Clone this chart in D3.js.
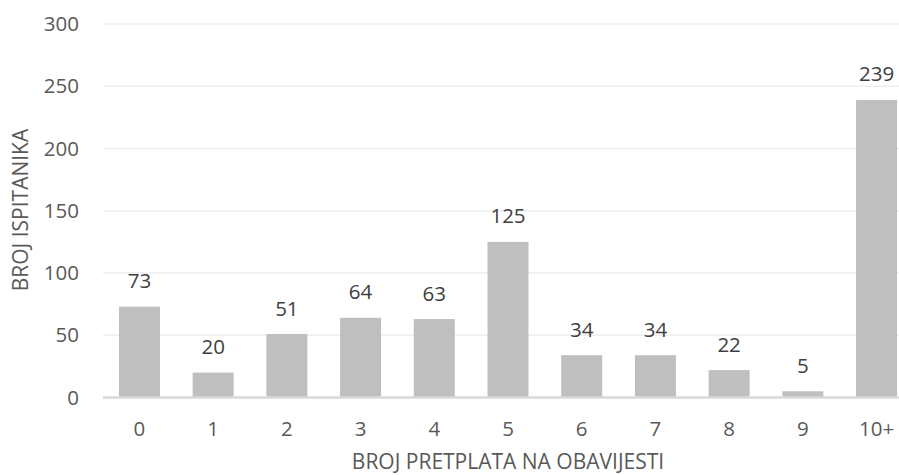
<!DOCTYPE html>
<html><head><meta charset="utf-8">
<script src="https://cdn.jsdelivr.net/npm/d3@7"></script>
<style>body{margin:0;background:#fff;} svg{display:block;}</style>
</head><body>
<svg id="chart" width="899" height="475"></svg>
<script>
const categories = ["0","1","2","3","4","5","6","7","8","9","10+"];
const values = [73,20,51,64,63,125,34,34,22,5,239];
const yTicks = [0,50,100,150,200,250,300];
const xTitle = "BROJ PRETPLATA NA OBAVIJESTI";
const yTitle = "BROJ ISPITANIKA";

const svg = d3.select("#chart");
const font = "'Open Sans', sans-serif";
const x = d3.scaleBand().domain(categories).range([102.6, 913.4]).paddingInner(0.444).paddingOuter(0.222);
const y = d3.scaleLinear().domain([0,300]).range([397.5, 24]);

// gridlines
svg.append("g").selectAll("line").data(yTicks.filter(d=>d>0)).join("line")
  .attr("x1",103).attr("x2",899).attr("y1",d=>y(d)).attr("y2",d=>y(d))
  .attr("stroke","#eeeeee").attr("stroke-width",1.5);

// bars
svg.append("g").selectAll("rect").data(values).join("rect")
  .attr("x",(d,i)=>x(categories[i])).attr("width",x.bandwidth())
  .attr("y",d=>y(d)).attr("height",d=>y(0)-y(d)).attr("fill","#bfbfbf");

// baseline
svg.append("line").attr("x1",103).attr("x2",899).attr("y1",y(0)).attr("y2",y(0))
  .attr("stroke","#d9d9d9").attr("stroke-width",2.5);

// y axis labels
const yAxis = d3.axisLeft(y).tickValues(yTicks).tickSize(0).tickPadding(0);
const yg = svg.append("g").attr("transform","translate(79,0)").call(yAxis);
yg.select(".domain").remove();
yg.selectAll("text").attr("font-family",font).attr("font-size",20.5).attr("fill","#595959");

// x axis labels
const xAxis = d3.axisBottom(x).tickSize(0).tickPadding(0);
const xg = svg.append("g").attr("transform","translate(0,421.5)").call(xAxis);
xg.select(".domain").remove();
xg.selectAll("text").attr("font-family",font).attr("font-size",20.5).attr("fill","#595959");

// data labels
svg.append("g").selectAll("text").data(values).join("text")
  .attr("x",(d,i)=>x(categories[i])+x.bandwidth()/2).attr("y",d=>y(d)-18.5)
  .attr("text-anchor","middle").attr("font-family",font).attr("font-size",20.5).attr("fill","#404040")
  .text(d=>d);

// titles
svg.append("text").attr("x",508).attr("y",469).attr("text-anchor","middle")
  .attr("font-family",font).attr("font-size",21).attr("fill","#595959").text(xTitle);
svg.append("text").attr("transform","translate(28,210) rotate(-90)").attr("text-anchor","middle")
  .attr("font-family",font).attr("font-size",21).attr("fill","#595959").text(yTitle);
</script>
</body></html>
